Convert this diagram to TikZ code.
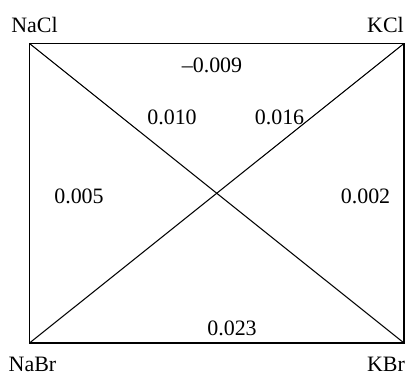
\documentclass[tikz,border=0pt]{standalone}
\usepackage{fontspec}
\setmainfont{Liberation Serif}
\usetikzlibrary{positioning}
\tikzset{
  saltlbl/.style={anchor=base, inner sep=0pt, font=\fontsize{12.5}{15}\selectfont},
  vallbl/.style={anchor=base, inner sep=0pt, font=\fontsize{12.5}{15}\selectfont},
  edgeline/.style={black, line width=1pt},
  diagline/.style={black, line width=0.6pt},
}
\begin{document}
\begin{tikzpicture}
    \useasboundingbox (0,0) rectangle (8.12,7.52);
    % corners of the square
    \coordinate (nacl) at (0.59,6.65);
    \coordinate (kcl)  at (8.08,6.65);
    \coordinate (nabr) at (0.59,0.66);
    \coordinate (kbr)  at (8.08,0.66);
    \draw[edgeline] (nacl) -- (kcl) -- (kbr) -- (nabr) -- cycle;
    \draw[diagline] (nacl) -- (kbr);
    \draw[diagline] (kcl) -- (nabr);
    % salts
    \node[saltlbl] (naclT) at (0.69,6.88) {NaCl};
    \node[saltlbl] (kclT)  at (7.71,6.88) {KCl};
    \node[saltlbl] (nabrT) at (0.65,0.09) {NaBr};
    \node[saltlbl] (kbrT)  at (7.72,0.09) {KBr};
    % values
    \node[vallbl] (top)   at (4.24,6.08) {–0.009};
    \node[vallbl] (dia1)  at (3.44,5.04) {0.010};
    \node[vallbl] (dia2)  at (5.59,5.04) {0.016};
    \node[vallbl] (left)  at (1.58,3.46) {0.005};
    \node[vallbl] (right) at (7.31,3.46) {0.002};
    \node[vallbl] (bot)   at (4.64,0.82) {0.023};
  \end{tikzpicture}
\end{document}
